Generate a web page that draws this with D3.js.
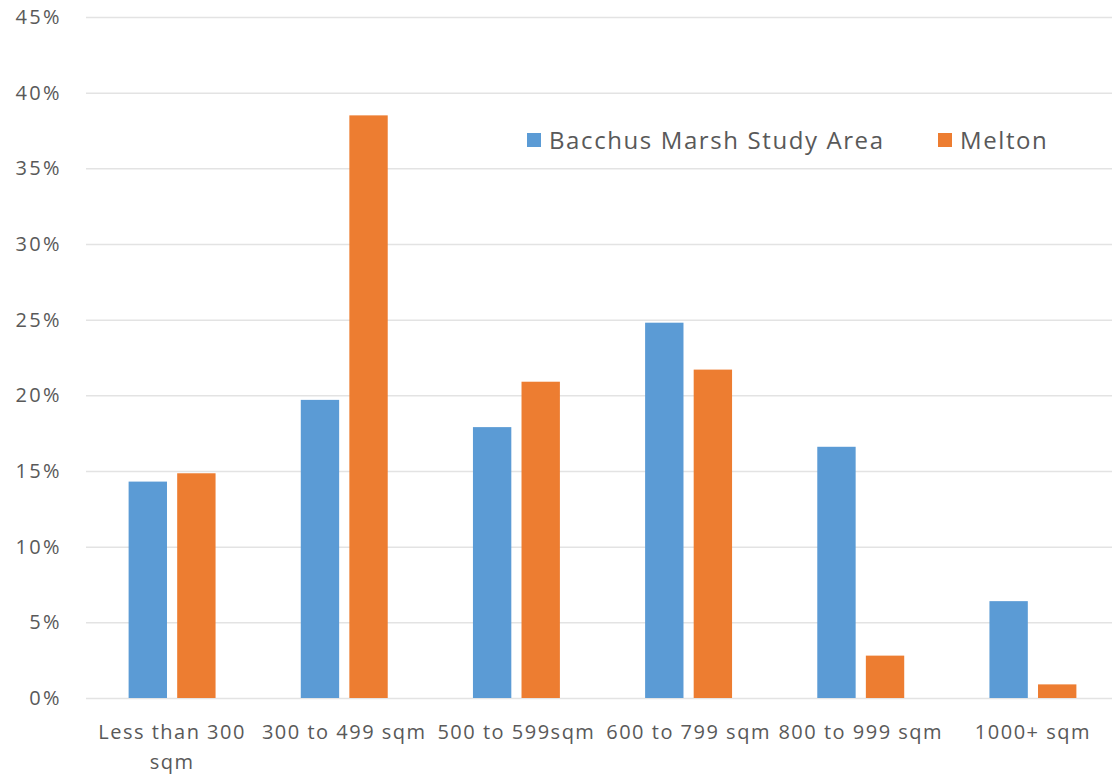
<!DOCTYPE html>
<html>
<head>
<meta charset="utf-8">
<script src="https://cdn.jsdelivr.net/npm/d3@7"></script>
<style>
  html, body { margin: 0; padding: 0; background: #fff; }
  svg { display: block; }
  text { font-family: "Open Sans", Lato, sans-serif; fill: #595959; }
</style>
</head>
<body>
<svg id="chart" width="1112" height="778"></svg>
<script>
// Lot size categories and share of lots for each area
const categories = ["Less than 300 sqm", "300 to 499 sqm", "500 to 599sqm", "600 to 799 sqm", "800 to 999 sqm", "1000+ sqm"];
const bacchusMarsh = [14.3, 19.7, 17.9, 24.8, 16.6, 6.4];
const melton = [14.85, 38.5, 20.9, 21.7, 2.8, 0.9];
const seriesNames = ["Bacchus Marsh Study Area", "Melton"];
const seriesColors = ["#5B9BD5", "#ED7D31"];
const yTicks = [0, 5, 10, 15, 20, 25, 30, 35, 40, 45];

const svg = d3.select("#chart");
const plot = { left: 86, right: 1119, top: 17, bottom: 698 };

const x = d3.scaleBand().domain(categories).range([plot.left, plot.right]).paddingInner(0.495).paddingOuter(0.2475);
const xInner = d3.scaleBand().domain(seriesNames).range([0, x.bandwidth()]).paddingInner(0.21);
const y = d3.scaleLinear().domain([0, 45]).range([plot.bottom, plot.top]);

// horizontal gridlines
svg.append("g")
  .selectAll("line")
  .data(yTicks)
  .join("line")
  .attr("x1", plot.left).attr("x2", 1112)
  .attr("y1", d => y(d) + 0.5).attr("y2", d => y(d) + 0.5)
  .attr("stroke", "#E3E3E3").attr("stroke-width", 1.5);

// y axis labels
const yAxis = svg.append("g")
  .attr("transform", `translate(${plot.left},0)`)
  .call(d3.axisLeft(y).tickValues(yTicks).tickFormat(d => d + "%").tickSize(0).tickPadding(24));
yAxis.select(".domain").remove();
yAxis.selectAll("text")
  .style("font-size", "20px")
  .style("letter-spacing", "2.4px")
  .attr("fill", "#595959");

// bars
const rows = categories.map((c, i) => ({ category: c, values: [bacchusMarsh[i], melton[i]] }));
svg.append("g")
  .selectAll("g")
  .data(rows)
  .join("g")
  .attr("transform", d => `translate(${x(d.category)},0)`)
  .selectAll("rect")
  .data(d => d.values.map((v, j) => ({ series: seriesNames[j], value: v, color: seriesColors[j] })))
  .join("rect")
  .attr("x", d => xInner(d.series))
  .attr("width", xInner.bandwidth())
  .attr("y", d => y(d.value))
  .attr("height", d => y(0) - y(d.value))
  .attr("fill", d => d.color);

// category labels, wrapped where wider than the band
const labelWidth = 176;
const xLabels = svg.append("g")
  .selectAll("text")
  .data(categories)
  .join("text")
  .attr("x", d => x(d) + x.bandwidth() / 2)
  .attr("y", 739)
  .attr("text-anchor", "middle")
  .style("font-size", "20px")
  .style("letter-spacing", "1.5px");

xLabels.each(function(d) {
  const t = d3.select(this);
  const words = d.split(" ");
  let line = [];
  let tspan = t.append("tspan").attr("x", t.attr("x")).attr("dy", 0);
  words.forEach(w => {
    line.push(w);
    tspan.text(line.join(" "));
    if (tspan.node().getComputedTextLength() > labelWidth && line.length > 1) {
      line.pop();
      tspan.text(line.join(" "));
      line = [w];
      tspan = t.append("tspan").attr("x", t.attr("x")).attr("dy", "1.5em").text(w);
    }
  });
});

// legend
const legend = svg.append("g");
const legendItems = [
  { name: seriesNames[0], color: seriesColors[0], x: 527 },
  { name: seriesNames[1], color: seriesColors[1], x: 938 }
];
const li = legend.selectAll("g").data(legendItems).join("g")
  .attr("transform", d => `translate(${d.x},133)`);
li.append("rect").attr("width", 14).attr("height", 14).attr("fill", d => d.color);
li.append("text")
  .attr("x", 22).attr("y", 15.5)
  .style("font-size", "24px")
  .style("letter-spacing", "1.6px")
  .text(d => d.name);
</script>
</body>
</html>
